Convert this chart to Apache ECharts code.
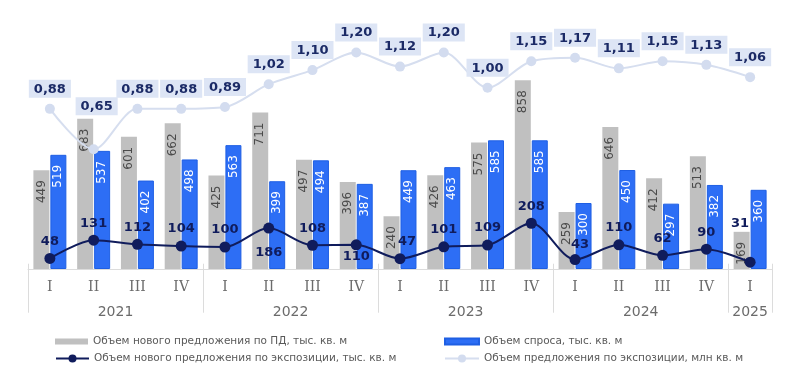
<!DOCTYPE html>
<html>
<head>
<meta charset="utf-8">
<script src="https://cdn.jsdelivr.net/npm/echarts@6/dist/echarts.min.js"></script>
<style>
  html, body { margin: 0; padding: 0; background: #fff; }
  #officeChart { width: 800px; height: 377px; }
</style>
</head>
<body>
<div id="officeChart"></div>
<script>
const years = ['2021', '2022', '2023', '2024', '2025'];
const quartersPerYear = [4, 4, 4, 4, 1];
const quarterNames = ['I', 'II', 'III', 'IV'];

const supplyPD = [449, 683, 601, 662, 425, 711, 497, 396, 240, 426, 575, 858, 259, 646, 412, 513, 169];
const demand = [519, 537, 402, 498, 563, 399, 494, 387, 449, 463, 585, 585, 300, 450, 297, 382, 360];
const newExposure = [48, 131, 112, 104, 100, 186, 108, 110, 47, 101, 109, 208, 43, 110, 62, 90, 31];
const exposure = [0.88, 0.65, 0.88, 0.88, 0.89, 1.02, 1.10, 1.20, 1.12, 1.20, 1.00, 1.15, 1.17, 1.11, 1.15, 1.13, 1.06];

const legendNames = [
    'Объем нового предложения по ПД, тыс. кв. м',
    'Объем спроса, тыс. кв. м',
    'Объем нового предложения по экспозиции, тыс. кв. м',
    'Объем предложения по экспозиции, млн кв. м',
];

// подписи кварталов и второй уровень оси (годы) на полушагах
const quarters = [];
const yearAxisData = [];
const yearDividers = [];
let start = 0;
years.forEach((y, i) => {
    const n = quartersPerYear[i];
    for (let q = 0; q < n; q++) quarters.push(quarterNames[q]);
    yearDividers.push(2 * start);
    start += n;
});
yearDividers.push(2 * start);
for (let k = 0; k <= 2 * start; k++) yearAxisData.push('');
start = 0;
years.forEach((y, i) => {
    yearAxisData[2 * start + quartersPerYear[i]] = y;
    start += quartersPerYear[i];
});

// ручные сдвиги подписей линии, чтобы не налезали на столбцы
const navyLabelTweaks = {
    5: { position: 'bottom', distance: 13 },
    7: { position: 'bottom', distance: 0 },
    8: { offset: [7, 0] },
    12: { offset: [5, 2] },
    16: { offset: [-10, -22] },
};
const lightLabelTweaks = {
    1: { offset: [3, -23] },
};

const font = 'DejaVu Sans';
const navy = '#101c5c';
const legendText = { color: '#595959', fontSize: 10.5, fontFamily: font };

const renderChart = () => {
    const option = {
        backgroundColor: '#fff',
        animation: false,
        textStyle: { fontFamily: font },
        grid: {
            top: 49,
            left: 28,
            right: 28,
            bottom: 108,
        },
        legend: [
            {
                data: [{ name: legendNames[0], icon: 'rect' }],
                left: 50,
                top: 331,
                itemWidth: 33,
                itemHeight: 6,
                textStyle: legendText,
            },
            {
                data: [{ name: legendNames[2] }],
                left: 50,
                top: 348,
                itemWidth: 33,
                itemHeight: 10,
                textStyle: legendText,
            },
            {
                data: [{ name: legendNames[1], icon: 'rect' }],
                left: 439,
                top: 331,
                itemWidth: 34,
                itemHeight: 6,
                textStyle: legendText,
            },
            {
                data: [{ name: legendNames[3] }],
                left: 439,
                top: 348,
                itemWidth: 34,
                itemHeight: 10,
                textStyle: legendText,
            },
        ],
        xAxis: [
            {
                type: 'category',
                data: quarters,
                position: 'bottom',
                axisLine: { lineStyle: { color: '#dcdcdc', width: 1 } },
                axisTick: { show: false },
                axisLabel: {
                    color: '#6b6b6b',
                    fontSize: 14,
                    fontFamily: 'DejaVu Serif',
                    margin: 11,
                    interval: 0,
                },
            },
            {
                type: 'category',
                data: yearAxisData,
                boundaryGap: false,
                position: 'bottom',
                axisLine: { show: false },
                axisTick: {
                    show: true,
                    length: 49,
                    interval: (idx) => yearDividers.indexOf(idx) >= 0,
                    lineStyle: { color: '#dcdcdc', width: 1 },
                },
                axisLabel: {
                    color: '#6b6b6b',
                    fontSize: 14,
                    margin: 36,
                    interval: 0,
                },
                splitLine: { show: false },
            },
        ],
        yAxis: [
            { type: 'value', min: 0, max: 1000, show: false, splitLine: { show: false } },
            { type: 'value', min: -0.03, max: 1.22, show: false, splitLine: { show: false } },
        ],
        series: [
            {
                name: legendNames[0],
                type: 'bar',
                data: supplyPD,
                barWidth: 16,
                barGap: '6%',
                itemStyle: { color: '#c0c0c0' },
                label: {
                    show: true,
                    position: 'insideTop',
                    rotate: 90,
                    align: 'right',
                    verticalAlign: 'middle',
                    distance: 10,
                    color: '#4a4a4a',
                    fontSize: 12,
                },
            },
            {
                name: legendNames[1],
                type: 'bar',
                data: demand,
                barWidth: 16,
                itemStyle: { color: '#2d6ef5', borderColor: '#1f5fe3', borderWidth: 1 },
                label: {
                    show: true,
                    position: 'insideTop',
                    rotate: 90,
                    align: 'right',
                    verticalAlign: 'middle',
                    distance: 10,
                    color: '#fff',
                    fontSize: 12,
                },
            },
            {
                name: legendNames[2],
                type: 'line',
                data: newExposure.map((v, i) => ({ value: v, label: navyLabelTweaks[i] || {} })),
                smooth: 0.3,
                symbol: 'circle',
                symbolSize: 11,
                z: 4,
                lineStyle: { color: navy, width: 2 },
                itemStyle: { color: navy },
                label: {
                    show: true,
                    position: 'top',
                    distance: 5,
                    color: navy,
                    fontSize: 13,
                    fontWeight: 'bold',
                },
            },
            {
                name: legendNames[3],
                type: 'line',
                yAxisIndex: 1,
                data: exposure.map((v, i) => ({ value: v, label: lightLabelTweaks[i] || {} })),
                smooth: 0.3,
                symbol: 'circle',
                symbolSize: 10,
                z: 3,
                lineStyle: { color: '#d6deef', width: 2 },
                itemStyle: { color: '#d3dcef' },
                label: {
                    show: true,
                    position: 'top',
                    distance: 6,
                    formatter: (p) => p.value.toFixed(2).replace('.', ','),
                    color: '#1b2a66',
                    fontSize: 13,
                    fontWeight: 'bold',
                    backgroundColor: '#dde5f5',
                    padding: [3, 5, 2, 5],
                },
            },
        ],
    };
    let myChart = echarts.init(document.getElementById('officeChart'));
    myChart.clear();
    myChart.setOption(option);
};
renderChart();
</script>
</body>
</html>
